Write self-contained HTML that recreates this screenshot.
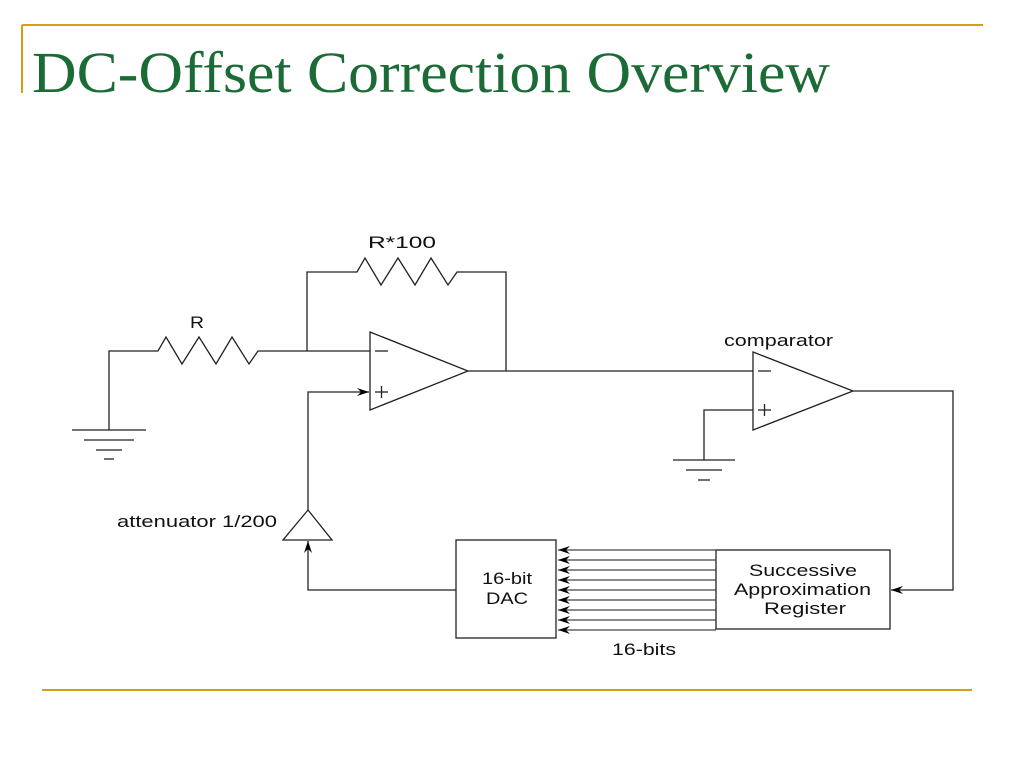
<!DOCTYPE html>
<html><head><meta charset="utf-8"><style>
html,body{margin:0;padding:0;background:#fff;}
svg{display:block;}
</style></head><body>
<svg width="1024" height="768" viewBox="0 0 1024 768" xmlns="http://www.w3.org/2000/svg">
<defs>
<marker id="ar" viewBox="0 0 12 8" refX="12" refY="4" markerWidth="12" markerHeight="8" markerUnits="userSpaceOnUse" orient="auto">
<path d="M0,0 L12,4 L0,8 L4,4 Z" fill="#000"/>
</marker>
</defs>
<line x1="22" y1="25" x2="983" y2="25" stroke="#d4a017" stroke-width="2"/>
<line x1="22" y1="25" x2="22" y2="93" stroke="#d4a017" stroke-width="2"/>
<text x="32" y="92" font-family="Liberation Serif, serif" font-size="58" fill="#1a6b35" textLength="798" lengthAdjust="spacingAndGlyphs">DC-Offset Correction Overview</text>
<line x1="42" y1="690" x2="972" y2="690" stroke="#d4a017" stroke-width="2"/>

<g fill="none" stroke="#222" stroke-width="1.3">
<polyline points="109,430 109,351 158,351 166,337 182,364 199,337 216,364 232,337 249,364 258,351 370,351"/>
<line x1="72" y1="430" x2="146" y2="430"/>
<line x1="84" y1="440" x2="134" y2="440"/>
<line x1="96" y1="450" x2="122" y2="450"/>
<line x1="104" y1="459" x2="114" y2="459"/>
<polyline points="307,351 307,272 357,272 365,258 381,285 398,258 415,285 431,258 448,285 457,272 506,272 506,371"/>
<polygon points="370,332 370,410 468,371"/>
<line x1="468" y1="371" x2="753" y2="371"/>
<line x1="375" y1="351" x2="388" y2="351"/>
<line x1="375" y1="392" x2="388" y2="392"/><line x1="381.5" y1="386" x2="381.5" y2="398"/>
<polyline points="308,510 308,392 369,392" marker-end="url(#ar)"/>
<polygon points="308,510 283,540 332,540"/>
<polyline points="456,590 308,590 308,541" marker-end="url(#ar)"/>
<polygon points="753,352 753,430 853,391"/>
<line x1="758" y1="371" x2="771" y2="371"/>
<line x1="758" y1="410" x2="771" y2="410"/><line x1="764.5" y1="404" x2="764.5" y2="416"/>
<polyline points="753,410 704,410 704,460"/>
<line x1="673" y1="460" x2="735" y2="460"/>
<line x1="686" y1="470" x2="722" y2="470"/>
<line x1="698" y1="480" x2="710" y2="480"/>
<polyline points="853,391 953,391 953,590 891,590" marker-end="url(#ar)"/>
<rect x="456" y="540" width="100" height="98"/>
<rect x="716" y="550" width="174" height="79"/>
</g>
<g stroke="#444" stroke-width="1.2">
<line x1="716" y1="550" x2="558" y2="550" marker-end="url(#ar)"/>
<line x1="716" y1="560" x2="558" y2="560" marker-end="url(#ar)"/>
<line x1="716" y1="570" x2="558" y2="570" marker-end="url(#ar)"/>
<line x1="716" y1="580" x2="558" y2="580" marker-end="url(#ar)"/>
<line x1="716" y1="590" x2="558" y2="590" marker-end="url(#ar)"/>
<line x1="716" y1="600" x2="558" y2="600" marker-end="url(#ar)"/>
<line x1="716" y1="610" x2="558" y2="610" marker-end="url(#ar)"/>
<line x1="716" y1="620" x2="558" y2="620" marker-end="url(#ar)"/>
<line x1="716" y1="630" x2="558" y2="630" marker-end="url(#ar)"/>
</g>
<g font-family="Liberation Sans, sans-serif" font-size="17" fill="#111" lengthAdjust="spacingAndGlyphs">
<text x="368" y="248" textLength="68" lengthAdjust="spacingAndGlyphs">R*100</text>
<text x="190" y="328" textLength="14" lengthAdjust="spacingAndGlyphs">R</text>
<text x="724" y="346" textLength="109" lengthAdjust="spacingAndGlyphs">comparator</text>
<text x="117" y="527" textLength="160" lengthAdjust="spacingAndGlyphs">attenuator 1/200</text>
<text x="482" y="584" textLength="50" lengthAdjust="spacingAndGlyphs">16-bit</text>
<text x="486" y="604" textLength="42" lengthAdjust="spacingAndGlyphs">DAC</text>
<text x="749" y="576" textLength="108" lengthAdjust="spacingAndGlyphs">Successive</text>
<text x="734" y="595" textLength="137" lengthAdjust="spacingAndGlyphs">Approximation</text>
<text x="764" y="614" textLength="82" lengthAdjust="spacingAndGlyphs">Register</text>
<text x="612" y="655" textLength="64" lengthAdjust="spacingAndGlyphs">16-bits</text>
</g>
</svg>
</body></html>
